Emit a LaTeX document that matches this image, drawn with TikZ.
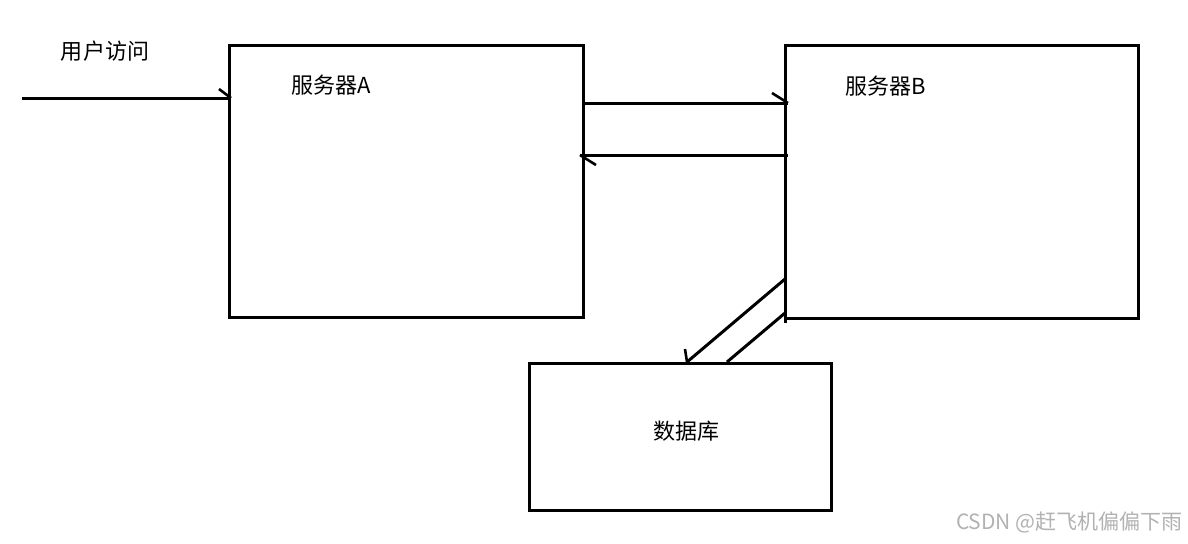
\documentclass[tikz,border=0pt]{standalone}
\usepackage{fontspec}
\setmainfont{Noto Sans CJK SC}
\newfontfamily\cjk{Noto Sans CJK SC}
\begin{document}
\begin{tikzpicture}[x=0.5pt,y=-0.5pt,
  box/.style={draw=black,line width=1.5pt},
  conn/.style={draw=black,line width=1.5pt},
  barb/.style={draw=black,line width=1.3pt},
  lbl/.style={font=\cjk\fontsize{11}{13}\selectfont,inner sep=0pt},
  wm/.style={font=\cjk\fontsize{10.5}{12}\selectfont,text=black!30,inner sep=0pt,anchor=east}]
\useasboundingbox (0,0) rectangle (1188,543);
\fill[white] (0,0) rectangle (1188,543);
% boxes
\draw[box] (229,45) rectangle (583,317);
\draw[box] (785,45) rectangle (1138,318);
\draw[box] (529,363) rectangle (831,510);
\draw[box] (785,300) -- (785,323);
% named points
\coordinate (in0) at (22,98);
\coordinate (in1) at (231,98);
\coordinate (ab0) at (583,103);
\coordinate (ab1) at (788,103);
\coordinate (ba0) at (788,155);
\coordinate (ba1) at (580,155);
\coordinate (bd0) at (785,279);
\coordinate (bd1) at (687,362);
\coordinate (db0) at (785,313);
\coordinate (db1) at (727,362);
% connectors
\draw[conn] (in0) -- (in1);
\draw[barb] (in1) -- ++(-12,-9);
\draw[conn] (ab0) -- (ab1);
\draw[barb] (ab1) -- ++(-16,-10);
\draw[conn] (ba0) -- (ba1);
\draw[barb] (ba1) -- ++(16,10);
\draw[conn] (bd0) -- (bd1);
\draw[barb] (bd1) -- ++(-2,-13);
\draw[conn] (db0) -- (db1);
% labels
\node[lbl] (t1) at (105,51) {用户访问};
\node[lbl] (t2) at (331,85) {服务器A};
\node[lbl] (t3) at (886,86) {服务器B};
\node[lbl] (t4) at (686,431) {数据库};
\node[wm] (w) at (1183,522) {CSDN @赶飞机偏偏下雨};
\end{tikzpicture}
\end{document}
